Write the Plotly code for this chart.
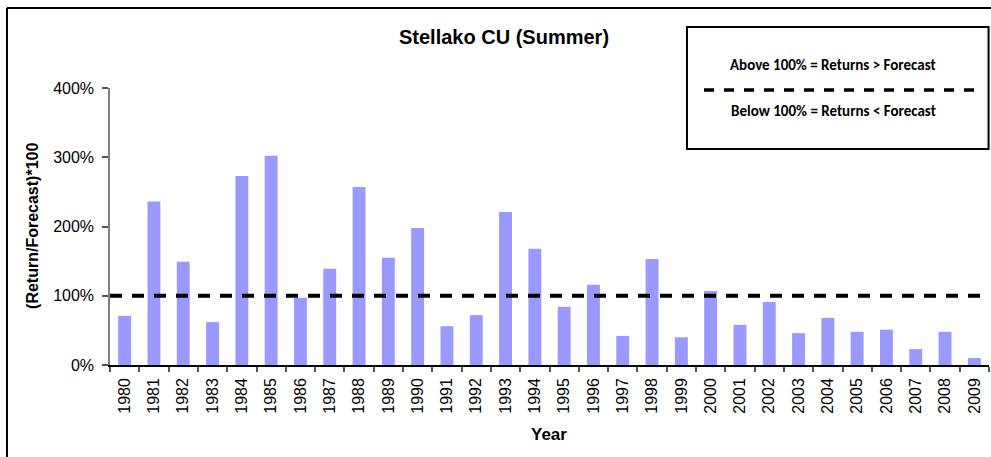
import plotly.graph_objects as go

# Return / forecast ratio for Stellako CU (Summer), expressed in percent
years = [str(y) for y in range(1980, 2010)]
ratio_pct = [71, 236, 149, 62, 273, 302, 97, 139, 257, 155,
             198, 56, 72, 221, 168, 84, 116, 42, 153, 40,
             107, 58, 91, 46, 68, 48, 51, 23, 48, 10]
y_ticks = [0, 100, 200, 300, 400]
y_tick_labels = ["0%", "100%", "200%", "300%", "400%"]
threshold = 100

title_text = "Stellako CU (Summer)"
y_title = "(Return/Forecast)*100"
x_title = "Year"
note_above = "Above 100% = Returns > Forecast"
note_below = "Below 100% = Returns < Forecast"

BASE_FONT = "Liberation Sans, Arial, sans-serif"
NOTE_FONT = "Carlito, Lato, sans-serif"

fig = go.Figure(
    go.Bar(
        x=years,
        y=ratio_pct,
        marker=dict(color="#9999FF", line=dict(width=0)),
        hovertemplate="%{x}: %{y}%<extra></extra>",
    )
)

fig.update_layout(
    width=991,
    height=457,
    margin=dict(l=110, r=2, t=88, b=92),
    paper_bgcolor="white",
    plot_bgcolor="white",
    bargap=0.56,
    showlegend=False,
    font=dict(family=BASE_FONT, size=16, color="black"),
)

fig.update_xaxes(
    type="category",
    showline=True,
    linecolor="black",
    linewidth=1.5,
    ticks="outside",
    tickson="boundaries",
    ticklen=5,
    tickcolor="#555555",
    tickwidth=1.5,
    tickangle=-90,
    tickfont=dict(size=16),
    ticklabelstandoff=5,
    showgrid=False,
)

fig.update_yaxes(
    range=[0, 400],
    tickmode="array",
    tickvals=y_ticks,
    ticktext=y_tick_labels,
    showline=True,
    linecolor="#808080",
    linewidth=1.5,
    ticks="outside",
    ticklen=6,
    tickcolor="#555555",
    tickwidth=1.5,
    tickfont=dict(size=16),
    ticklabelstandoff=5,
    showgrid=False,
    zeroline=False,
)

shapes = [
    # 100% reference line
    dict(type="line", xref="paper", yref="y", x0=0, x1=0.993,
         y0=threshold, y1=threshold,
         line=dict(color="black", width=4, dash="12px,10px"), layer="above"),
    # note box
    dict(type="rect", xref="paper", yref="paper", x0=0.6564, x1=0.9995,
         y0=0.7798, y1=1.2202, line=dict(color="black", width=2),
         fillcolor="white"),
    dict(type="line", xref="paper", yref="paper", x0=0.6758, x1=0.992,
         y0=0.9928, y1=0.9928,
         line=dict(color="black", width=3.5, dash="10px,10px")),
    # chart frame
    dict(type="line", xref="paper", yref="paper", x0=-0.1172, x1=1.2,
         y0=1.2888, y1=1.2888, line=dict(color="black", width=2)),
    dict(type="line", xref="paper", yref="paper", x0=-0.1172, x1=-0.1172,
         y0=1.2888, y1=-0.5, line=dict(color="black", width=2)),
]
fig.update_layout(shapes=shapes)

annotations = [
    dict(text=f"<b>{title_text}</b>", xref="paper", yref="paper",
         x=0.4482, y=1.184, xanchor="center", yanchor="middle",
         showarrow=False, font=dict(size=20, family=BASE_FONT)),
    dict(text=f"<b>{y_title}</b>", xref="paper", yref="paper",
         x=-0.0876, y=0.502, xanchor="center", yanchor="middle",
         textangle=-90, showarrow=False, font=dict(size=16, family=BASE_FONT)),
    dict(text=f"<b>{x_title}</b>", xref="paper", yref="paper",
         x=0.4994, y=-0.2527, xanchor="center", yanchor="middle",
         showarrow=False, font=dict(size=17, family=BASE_FONT)),
    dict(text=f"<b>{note_above}</b>", xref="paper", yref="paper",
         x=0.823, y=1.083, xanchor="center", yanchor="middle",
         showarrow=False, font=dict(size=15, family=NOTE_FONT)),
    dict(text=f"<b>{note_below}</b>", xref="paper", yref="paper",
         x=0.823, y=0.917, xanchor="center", yanchor="middle",
         showarrow=False, font=dict(size=15, family=NOTE_FONT)),
]
fig.update_layout(annotations=annotations)

fig.write_html("out.html")
